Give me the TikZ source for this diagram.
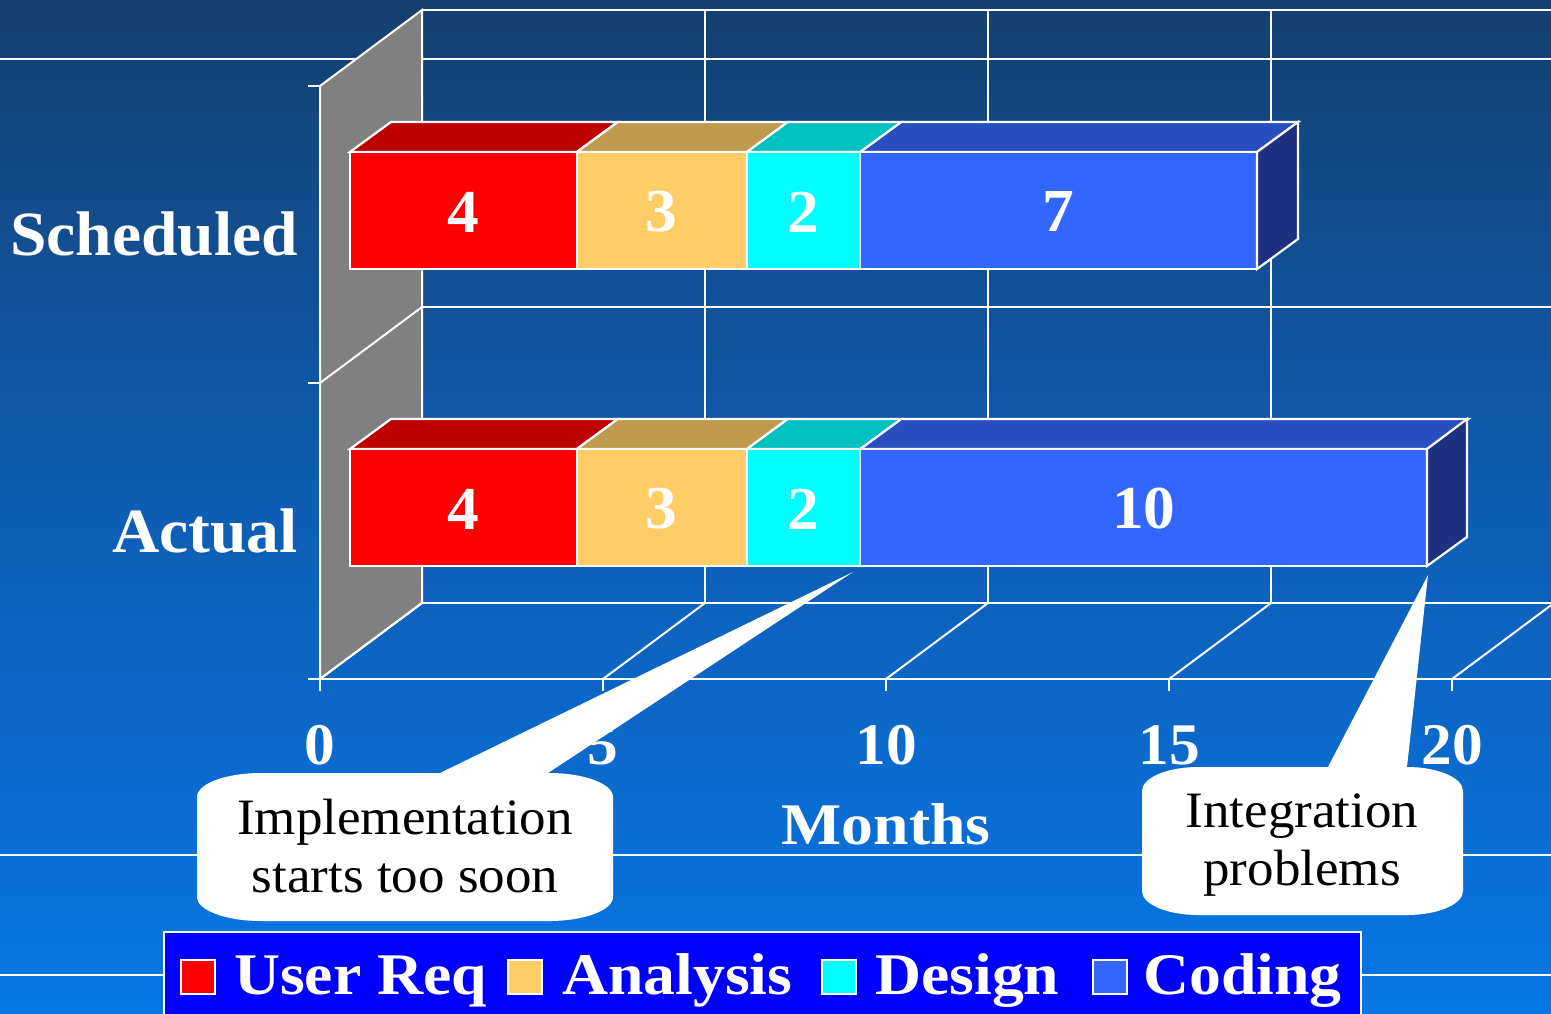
\documentclass[tikz,border=0pt]{standalone}
\usepackage{fontspec}
\setmainfont[FakeStretch=1.04]{Liberation Serif}
\newfontfamily\widefont[FakeStretch=1.08]{Liberation Serif}

\definecolor{bgtop}{HTML}{14406F}
\definecolor{bgmid}{HTML}{0F5DB4}
\definecolor{bgbot}{HTML}{0677E5}
\definecolor{wallgray}{HTML}{808080}
\definecolor{ureq}{HTML}{FF0000}
\definecolor{ureqtop}{HTML}{BD0000}
\definecolor{anal}{HTML}{FFCC66}
\definecolor{analtop}{HTML}{C09A4E}
\definecolor{desg}{HTML}{00FFFF}
\definecolor{desgtop}{HTML}{00C0C0}
\definecolor{codg}{HTML}{3366FF}
\definecolor{codgtop}{HTML}{284EC0}
\definecolor{codgside}{HTML}{1E3080}
\definecolor{legendbg}{HTML}{0000FF}

% rounded callout with a wedge tail: L, T, R, B, rx, ry, tail base left, tail base right, tip
\newcommand\callshape[9]{%
  \fill[white] (#1,{#2+#6}) .. controls (#1,{#2+0.448*#6}) and ({#1+0.448*#5},#2) .. ({#1+#5},#2)
    -- (#7,#2) -- #9 -- (#8,#2) -- ({#3-#5},#2)
    .. controls ({#3-0.448*#5},#2) and (#3,{#2+0.448*#6}) .. (#3,{#2+#6})
    -- (#3,{#4-#6}) .. controls (#3,{#4-0.448*#6}) and ({#3-0.448*#5},#4) .. ({#3-#5},#4)
    -- ({#1+#5},#4) .. controls ({#1+0.448*#5},#4) and (#1,{#4-0.448*#6}) .. (#1,{#4-#6}) -- cycle;}

\tikzset{
  gridline/.style={draw=white, line width=2pt},
  decoline/.style={draw=white, line width=1.6pt},
  facestyle/.style={draw=white, line width=2.2pt, line join=miter},
  barnum/.style={text=white, inner sep=0pt, font=\fontsize{61}{62}\selectfont\bfseries},
  catlabel/.style={text=white, inner sep=0pt, anchor=base east, font=\fontsize{63}{64}\selectfont\bfseries},
  axislabel/.style={text=white, inner sep=0pt, anchor=base, font=\fontsize{59}{60}\selectfont\bfseries},
  calltext/.style={text=black, inner sep=0pt, anchor=base, font=\fontsize{51}{58}\selectfont},
  legtext/.style={text=white, inner sep=0pt, anchor=base west, font=\widefont\fontsize{59}{60}\selectfont\bfseries},
  legsquare/.style={draw=white, line width=1.5pt},
}

\begin{document}
\begin{tikzpicture}[x=1pt,y=-1pt]
\useasboundingbox (0,0) rectangle (1551,1013);
\clip (0,0) rectangle (1551,1013);

% slide background
\fill[top color=bgtop, bottom color=bgbot, middle color=bgmid] (0,0) rectangle (1551,1013);
\foreach \yy in {59,855,975} \draw[decoline] (0,\yy) -- (1551,\yy);

% back plane grid
\foreach \yy in {10,307,603} \draw[gridline] (422,\yy) -- (1551,\yy);
\foreach \xx in {705,988,1271} \draw[gridline] (\xx,10) -- (\xx,603);

% side wall
\filldraw[fill=wallgray, gridline] (320,86) -- (422,10) -- (422,603) -- (320,679) -- cycle;
\draw[gridline] (320,383) -- (422,307);

% floor
\draw[gridline] (320,679) -- (1551,679);
\foreach \k in {0,...,4} \draw[gridline] ({320+283*\k},679) -- ({422+283*\k},603);

% ticks
\foreach \yy in {86,383,679} \draw[gridline] (308,\yy) -- (320,\yy);
\foreach \k in {0,...,4} \draw[gridline] ({320+283*\k},679) -- ({320+283*\k},691);

% Scheduled bar
\foreach \a/\b/\fcol/\tcol/\val [count=\i] in {0/4/ureq/ureqtop/4, 4/7/anal/analtop/3, 7/9/desg/desgtop/2, 9/16/codg/codgtop/7} {
  \filldraw[fill=\tcol, facestyle] ({350+56.7*\a},152) -- ({391+56.7*\a},122) -- ({391+56.7*\b},122) -- ({350+56.7*\b},152) -- cycle;
  \filldraw[fill=\fcol, facestyle] ({350+56.7*\a},152) rectangle ({350+56.7*\b},269);
  \node[barnum] (s\i) at ({350+56.7*(\a+\b)/2},212) {\val};
}
\filldraw[fill=codgside, facestyle] (1257,152) -- (1298,122) -- (1298,239) -- (1257,269) -- cycle;

% Actual bar
\foreach \a/\b/\fcol/\tcol/\val [count=\i] in {0/4/ureq/ureqtop/4, 4/7/anal/analtop/3, 7/9/desg/desgtop/2, 9/19/codg/codgtop/10} {
  \filldraw[fill=\tcol, facestyle] ({350+56.7*\a},449) -- ({391+56.7*\a},419) -- ({391+56.7*\b},419) -- ({350+56.7*\b},449) -- cycle;
  \filldraw[fill=\fcol, facestyle] ({350+56.7*\a},449) rectangle ({350+56.7*\b},566);
  \node[barnum] (a\i) at ({350+56.7*(\a+\b)/2},509) {\val};
}
\filldraw[fill=codgside, facestyle] (1427,449) -- (1467,419) -- (1467,537) -- (1427,566) -- cycle;

% category and axis labels
\node[catlabel] (lsched) at (298,255) {Scheduled};
\node[catlabel] (lact) at (298,552) {Actual};
\foreach \v [count=\k from 0] in {0,5,10,15,20}
  \node[axislabel] (x\k) at ({320+283*\k},764) {\v};
\node[axislabel, font=\widefont\fontsize{59}{60}\selectfont\bfseries] (months) at (886,844) {Months};

% callouts
\coordinate (tipA) at (853,572);
\coordinate (tipB) at (1428,575);
\callshape{197}{773}{613}{921}{64}{24}{440}{548}{(tipA)}
\callshape{1142}{767}{1463}{915}{56}{24}{1328}{1407}{(tipB)}
\node[calltext] (impl1) at (405,834) {Implementation};
\node[calltext] (impl2) at (405,892) {starts too soon};
\node[calltext] (integ1) at (1302,827) {Integration};
\node[calltext] (integ2) at (1302,885) {problems};

% legend
\filldraw[fill=legendbg, draw=white, line width=2pt] (164,932) rectangle (1361,1030);
\filldraw[fill=ureq, legsquare] (181,960) rectangle (215,994);
\filldraw[fill=anal, legsquare] (508,960) rectangle (542,994);
\filldraw[fill=desg, legsquare] (822,960) rectangle (856,994);
\filldraw[fill=codg, legsquare] (1093,960) rectangle (1127,994);
\node[legtext] (k1) at (234,994) {User Req};
\node[legtext] (k2) at (562,994) {Analysis};
\node[legtext] (k3) at (875,994) {Design};
\node[legtext] (k4) at (1143,994) {Coding};
\end{tikzpicture}
\end{document}
